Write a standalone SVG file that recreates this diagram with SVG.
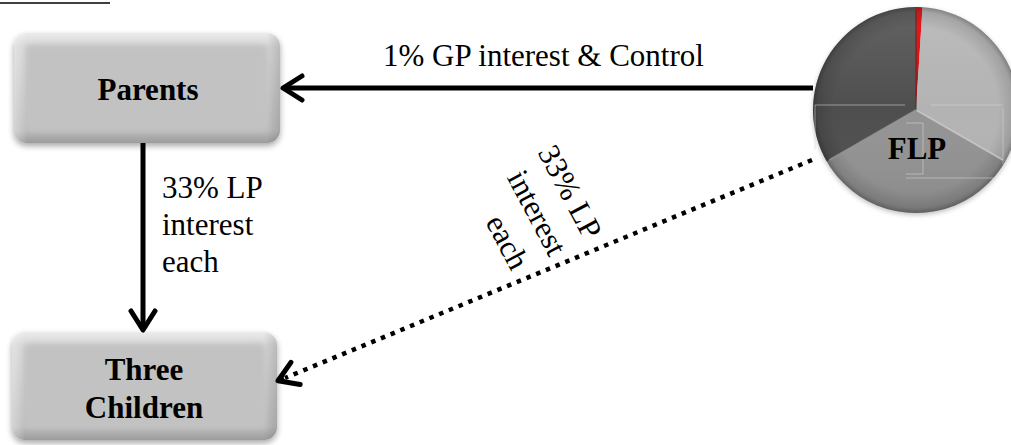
<svg xmlns="http://www.w3.org/2000/svg" width="1011" height="445" viewBox="0 0 1011 445">
  <style>
    .lbl { font-family: "Liberation Serif", "Times New Roman", serif; font-size: 31px; fill: #000; }
    .node-text { font-family: "Liberation Serif", "Times New Roman", serif; font-size: 31px; font-weight: bold; fill: #000; text-anchor: middle; }
    .conn { stroke: #000; stroke-width: 5; fill: none; }
    .dotted { stroke: #000; stroke-width: 4.5; fill: none; stroke-dasharray: 4.5 6; }
    .faint { stroke: #d8d8d8; stroke-width: 1; fill: none; opacity: 0.55; }
  </style>
  <defs>
    <filter id="shadow" x="-10%" y="-10%" width="120%" height="130%">
      <feGaussianBlur in="SourceAlpha" stdDeviation="3"/>
      <feOffset dx="0" dy="3" result="b"/>
      <feComponentTransfer><feFuncA type="linear" slope="0.35"/></feComponentTransfer>
      <feMerge><feMergeNode/><feMergeNode in="SourceGraphic"/></feMerge>
    </filter>
    <filter id="soft" x="-5%" y="-5%" width="110%" height="110%">
      <feGaussianBlur stdDeviation="2.5"/>
    </filter>
    <linearGradient id="bevelV" x1="0" y1="0" x2="0" y2="1">
      <stop offset="0" stop-color="#ececec"/>
      <stop offset="0.12" stop-color="#d4d4d4"/>
      <stop offset="0.88" stop-color="#bdbdbd"/>
      <stop offset="1" stop-color="#9c9c9c"/>
    </linearGradient>
    <linearGradient id="bevelH" x1="0" y1="0" x2="1" y2="0">
      <stop offset="0" stop-color="#ffffff" stop-opacity="0.35"/>
      <stop offset="0.05" stop-color="#ffffff" stop-opacity="0"/>
      <stop offset="0.95" stop-color="#000000" stop-opacity="0"/>
      <stop offset="1" stop-color="#000000" stop-opacity="0.12"/>
    </linearGradient>
    <radialGradient id="rim" cx="0.5" cy="0.5" r="0.5">
      <stop offset="0.8" stop-color="#000" stop-opacity="0"/>
      <stop offset="0.95" stop-color="#000" stop-opacity="0.12"/>
      <stop offset="1" stop-color="#000" stop-opacity="0.3"/>
    </radialGradient>
    <linearGradient id="pieShine" x1="0" y1="0" x2="0" y2="1">
      <stop offset="0" stop-color="#fff" stop-opacity="0.12"/>
      <stop offset="0.5" stop-color="#fff" stop-opacity="0"/>
      <stop offset="1" stop-color="#000" stop-opacity="0.08"/>
    </linearGradient>
    <marker id="chev" viewBox="-25 -16 30 32" markerUnits="userSpaceOnUse" markerWidth="30" markerHeight="32" refX="0" refY="0" orient="auto" overflow="visible">
      <path d="M -19 -12 L 0 0 L -19 12" fill="none" stroke="#000" stroke-width="5" stroke-linecap="round" stroke-linejoin="round"/>
    </marker>
  </defs>

  <rect width="1011" height="445" fill="#ffffff"/>

  <!-- top-left rule -->
  <line x1="0" y1="3" x2="110" y2="3" stroke="#000" stroke-width="1.5"/>

  <!-- Parents node -->
  <g id="node-parents">
    <rect x="14" y="33" width="266" height="110" rx="13" fill="url(#bevelV)" filter="url(#shadow)"/>
    <rect x="14" y="33" width="266" height="110" rx="13" fill="url(#bevelH)"/>
    <rect x="26" y="45" width="242" height="86" rx="6" fill="#c2c2c2" filter="url(#soft)"/>
    <text class="node-text" x="148" y="100">Parents</text>
  </g>

  <!-- Three Children node -->
  <g id="node-children">
    <rect x="12" y="332" width="265" height="108" rx="13" fill="url(#bevelV)" filter="url(#shadow)"/>
    <rect x="12" y="332" width="265" height="108" rx="13" fill="url(#bevelH)"/>
    <rect x="24" y="344" width="241" height="84" rx="6" fill="#c2c2c2" filter="url(#soft)"/>
    <text class="node-text" x="144" y="380">Three</text>
    <text class="node-text" x="144" y="418">Children</text>
  </g>

  <!-- FLP pie node -->
  <g id="node-flp">
    <circle cx="916" cy="112" r="103" fill="#000" opacity="0.25" filter="url(#soft)"/>
    <path d="M916,110 L916,7 A103,103 0 0 1 922.5,7.2 Z" fill="#e00000"/>
    <path d="M916,110 L922.5,7.2 A103,103 0 0 1 1005.2,161.5 Z" fill="#b3b3b3"/>
    <path d="M916,110 L1005.2,161.5 A103,103 0 0 1 826.8,161.5 Z" fill="#939393"/>
    <path d="M916,110 L826.8,161.5 A103,103 0 0 1 916,7 Z" fill="#4e4e4e"/>
    <circle cx="916" cy="110" r="103" fill="url(#pieShine)"/>
    <circle cx="916" cy="110" r="103" fill="url(#rim)"/>
    <g stroke-linecap="round">
      <line x1="916" y1="110" x2="830" y2="159.5" stroke="#9a9a9a" stroke-width="2" opacity="0.7"/>
      <line x1="916" y1="110" x2="1002" y2="159.5" stroke="#d0d0d0" stroke-width="2" opacity="0.7"/>
      <line x1="916" y1="110" x2="916" y2="10" stroke="#333" stroke-width="1.5" opacity="0.6"/>
    </g>
    <path class="faint" d="M815,105 H905 M931,105 H1003 M815,105 V150 M1003,108 V164 M906,123 H923 V174 H906 M906,178 H996"/>
    <text class="node-text" x="917" y="159">FLP</text>
  </g>

  <!-- connectors -->
  <g id="connectors">
    <line class="conn" x1="813" y1="88" x2="283" y2="88" marker-end="url(#chev)"/>
    <line class="conn" x1="143" y1="143" x2="143" y2="330" marker-end="url(#chev)"/>
    <line class="dotted" x1="812" y1="160" x2="285" y2="378"/>
    <line class="conn" x1="284" y1="378.2" x2="278" y2="380.7" stroke="none" marker-end="url(#chev)"/>
  </g>

  <!-- labels -->
  <g id="labels">
    <text class="lbl" x="383" y="66">1% GP interest &amp; Control</text>
    <text class="lbl" x="162" y="198">33% LP</text>
    <text class="lbl" x="162" y="235">interest</text>
    <text class="lbl" x="162" y="272">each</text>
    <g transform="rotate(62)" class="lbl" text-anchor="middle">
      <text x="437" y="-403">33% LP</text>
      <text x="440" y="-364">interest</text>
      <text x="452" y="-324">each</text>
    </g>
  </g>
</svg>
